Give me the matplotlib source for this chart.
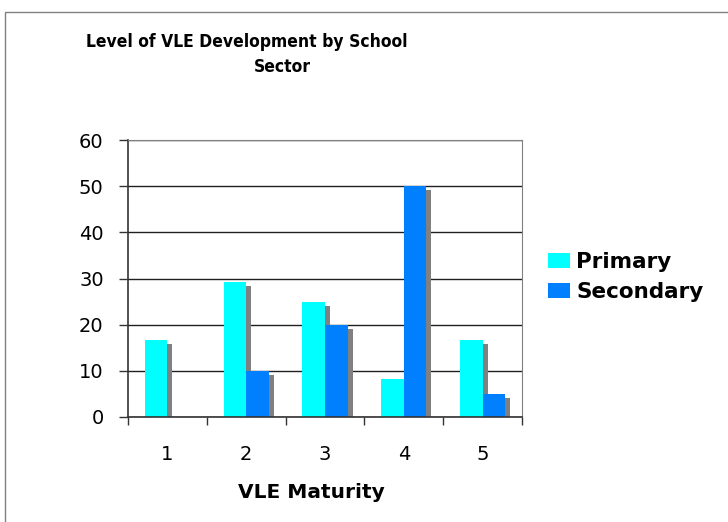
import numpy as np
import matplotlib.pyplot as plt
from matplotlib.transforms import ScaledTranslation
from matplotlib.patches import Rectangle

categories = ["1", "2", "3", "4", "5"]
primary = [16.7, 29.2, 25.0, 8.3, 16.7]
secondary = [0, 10, 20, 50, 5]

fig = plt.figure(figsize=(7.28, 5.22), dpi=100)
fig.patch.set_facecolor("white")
# outer chart frame, only left and top edges fall inside the picture
fig.patches.append(Rectangle((5 / 728, -0.05), 1.0, 1 - 12 / 522 + 0.05, transform=fig.transFigure,
                             fill=False, edgecolor="#808080", linewidth=1))

ax = fig.add_axes([128 / 728, 1 - 417 / 522, 394 / 728, 277 / 522])
x = np.arange(len(categories))
w = 1 / 3.5

shadow = ScaledTranslation(5 / 100, -4 / 100, fig.dpi_scale_trans)
for vals, off in [(primary, -w / 2), (secondary, w / 2)]:
    sb = ax.bar(x + off, vals, w, color="#808080", zorder=1)
    for p in sb:
        p.set_transform(ax.transData + shadow)

ax.bar(x - w / 2, primary, w, color="#00FFFF", label="Primary", zorder=2)
ax.bar(x + w / 2, secondary, w, color="#0080FF", label="Secondary", zorder=2)

ax.set_xlim(-0.5, 4.5)
ax.set_ylim(0, 60)
ax.set_yticks(range(0, 61, 10))
ax.yaxis.grid(True, color="#202020", linewidth=1, zorder=0.5)
ax.set_axisbelow(True)
ax.set_xticks(x)
ax.set_xticklabels(categories, fontsize=14)
ax.tick_params(axis="x", length=0, pad=20)
ax.set_xticks(np.arange(-0.5, 5, 1), minor=True)
ax.tick_params(axis="x", which="minor", length=6, width=1, color="#333333")
ax.tick_params(axis="y", length=6.5, width=1, labelsize=14, pad=11, color="#333333")
for s in ["top", "right"]:
    ax.spines[s].set_color("#808080")
for s in ["left", "bottom"]:
    ax.spines[s].set_color("#333333")
    ax.spines[s].set_linewidth(1.2)

fig.text(247 / 728, 1 - 42 / 522, "Level of VLE Development by School", ha="center", va="center",
         fontsize=12.5, fontweight="bold", fontstretch="condensed")
fig.text(282 / 728, 1 - 67 / 522, "Sector", ha="center", va="center",
         fontsize=12.5, fontweight="bold", fontstretch="condensed")
fig.text(311 / 728, 1 - 493 / 522, "VLE Maturity", ha="center", va="center", fontsize=14.5, fontweight="bold")

ax.legend(loc="center left", bbox_to_anchor=(533 / 728, 1 - 277 / 522), bbox_transform=fig.transFigure,
          frameon=False, prop={"size": 15.5, "weight": "bold"}, handlelength=1.0, handleheight=0.7,
          handletextpad=0.3, labelspacing=0.45, borderpad=0.2)

fig.savefig("out.png", dpi=100)
